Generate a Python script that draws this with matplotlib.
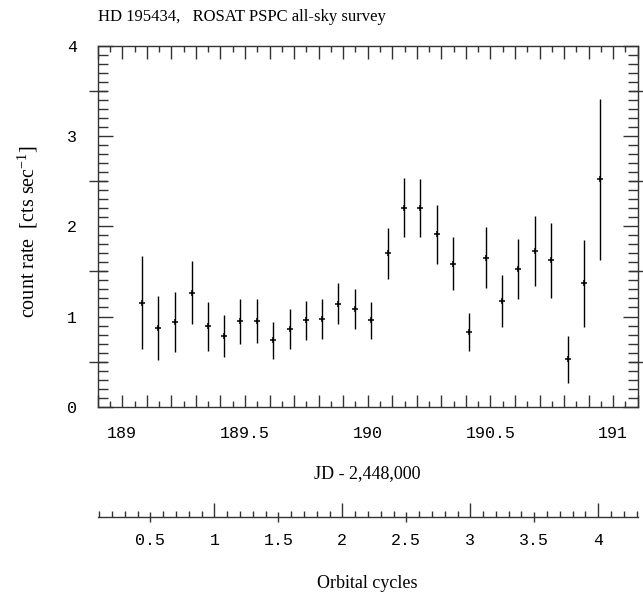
import numpy as np
import matplotlib
matplotlib.use('Agg')
import matplotlib.pyplot as plt
from matplotlib.ticker import MultipleLocator, FixedLocator, FuncFormatter, NullFormatter

# ROSAT PSPC survey light curve of HD 195434
jd = [189.079, 189.147, 189.214, 189.283, 189.348, 189.416, 189.481, 189.548,
      189.614, 189.682, 189.748, 189.814, 189.880, 189.948, 190.013, 190.081,
      190.146, 190.214, 190.281, 190.347, 190.414, 190.480, 190.547, 190.613,
      190.680, 190.748, 190.814, 190.881, 190.947]
rate = [1.152, 0.876, 0.941, 1.263, 0.893, 0.784, 0.945, 0.950,
        0.734, 0.863, 0.958, 0.974, 1.143, 1.082, 0.956, 1.699,
        2.208, 2.202, 1.910, 1.586, 0.826, 1.652, 1.173, 1.526,
        1.726, 1.623, 0.526, 1.369, 2.523]
rate_err = [0.515, 0.357, 0.330, 0.348, 0.270, 0.236, 0.252, 0.246,
            0.208, 0.222, 0.217, 0.222, 0.228, 0.222, 0.208, 0.284,
            0.326, 0.324, 0.324, 0.297, 0.211, 0.341, 0.290, 0.337,
            0.393, 0.419, 0.259, 0.480, 0.893]

# orbital ephemeris used for the cycle scale
period = 0.5213
t0 = 188.854
cycle_labels = [0.5, 1, 1.5, 2, 2.5, 3, 3.5, 4]

serif = 'Liberation Serif'
mono = 'Liberation Mono'
plt.rcParams['mathtext.fontset'] = 'custom'
plt.rcParams['mathtext.rm'] = serif
plt.rcParams['mathtext.it'] = serif + ':italic'
plt.rcParams['axes.linewidth'] = 1.0


def jd_to_cycle(x):
    return (np.asarray(x) - t0) / period


def cycle_to_jd(c):
    return np.asarray(c) * period + t0


def main():
    fig = plt.figure(figsize=(6.43, 5.93), dpi=100)
    ax = fig.add_axes([0.152, 0.3142, 0.8398, 0.6082])

    ax.errorbar(jd, rate, yerr=rate_err, fmt='+', color='black', ms=4,
                mew=1.1, elinewidth=1.0, capsize=0)

    ax.set_xlim(188.9, 191.1)
    ax.set_ylim(0, 4)

    # x ticks every 0.1 / 0.05, labels only on the half days
    ax.xaxis.set_major_locator(MultipleLocator(0.1))
    ax.xaxis.set_minor_locator(MultipleLocator(0.05))

    def half_labels(v, pos):
        if abs(v * 2 - round(v * 2)) < 1e-6:
            return '%g' % round(v, 1)
        return ''
    ax.xaxis.set_major_formatter(FuncFormatter(half_labels))

    ax.yaxis.set_major_locator(MultipleLocator(1))
    ax.yaxis.set_minor_locator(MultipleLocator(0.1))

    ax.tick_params(which='both', direction='in', top=True, right=True,
                   width=1.0, color='#333333')
    ax.tick_params(axis='x', which='major', length=9, pad=14)
    ax.tick_params(axis='x', which='minor', length=4.5)
    ax.tick_params(axis='y', which='major', length=11, pad=15)
    ax.tick_params(axis='y', which='minor', length=7.5)
    for lab in ax.get_xticklabels() + ax.get_yticklabels():
        lab.set_fontfamily(mono)
        lab.set_fontsize(12)

    # half-unit count-rate ticks crossing both side spines
    for side in ('left', 'right'):
        sy = ax.secondary_yaxis(side)
        sy.yaxis.set_major_locator(FixedLocator([0.5, 1.5, 2.5, 3.5]))
        sy.yaxis.set_major_formatter(NullFormatter())
        sy.tick_params(direction='inout', length=13, width=1.0, color='#333333')
        sy.spines[side].set_visible(False)

    ax.set_xlabel('JD - 2,448,000', fontfamily=serif, fontsize=13, labelpad=17)
    ax.set_ylabel('count rate  [cts sec$^{-1}$]', fontfamily=serif,
                  fontsize=14.5)
    ax.yaxis.set_label_coords(-0.107, 0.484)
    ax.set_title('HD 195434,   ROSAT PSPC all-sky survey', loc='left',
                 fontfamily=serif, fontsize=12, pad=18)

    # orbital cycle scale below the plot
    loc = -0.305
    cyc = ax.secondary_xaxis(loc, functions=(jd_to_cycle, cycle_to_jd))
    cyc.xaxis.set_major_locator(FixedLocator(cycle_labels))
    cyc.xaxis.set_minor_locator(MultipleLocator(0.1))
    cyc.xaxis.set_major_formatter(FuncFormatter(lambda v, p: '%g' % v))
    cyc.tick_params(which='major', direction='inout', length=0, pad=12)
    cyc.tick_params(which='minor', direction='in', length=4.5, width=1.0,
                    color='#333333')
    for lab in cyc.get_xticklabels():
        lab.set_fontfamily(mono)
        lab.set_fontsize(12)
    cyc.set_xlabel('Orbital cycles', fontfamily=serif, fontsize=13, labelpad=19)

    cyc_int = ax.secondary_xaxis(loc, functions=(jd_to_cycle, cycle_to_jd))
    cyc_int.xaxis.set_major_locator(MultipleLocator(1))
    cyc_int.xaxis.set_major_formatter(NullFormatter())
    cyc_int.tick_params(direction='in', length=10, width=1.0, color='#333333')
    cyc_int.spines['bottom'].set_visible(False)

    cyc_half = ax.secondary_xaxis(loc, functions=(jd_to_cycle, cycle_to_jd))
    cyc_half.xaxis.set_major_locator(FixedLocator([0.5, 1.5, 2.5, 3.5]))
    cyc_half.xaxis.set_major_formatter(NullFormatter())
    cyc_half.tick_params(direction='inout', length=7, width=1.0, color='#333333')
    cyc_half.spines['bottom'].set_visible(False)

    for s in ax.spines.values():
        s.set_color('#333333')
    cyc.spines['bottom'].set_color('#333333')

    fig.savefig('out.png', dpi=100)


if __name__ == "__main__":
    main()
